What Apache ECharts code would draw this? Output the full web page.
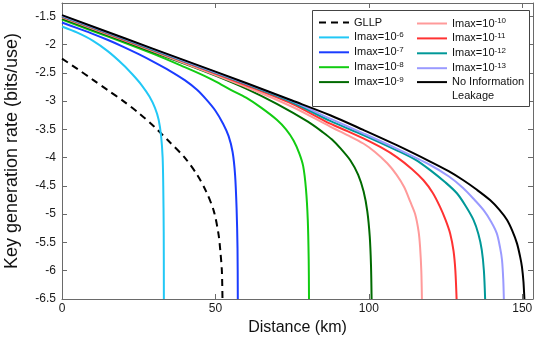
<!DOCTYPE html>
<html>
<head>
<meta charset="utf-8">
<script src="https://cdn.jsdelivr.net/npm/echarts@6/dist/echarts.min.js"></script>
<style>
  html, body { margin: 0; padding: 0; background: #fff; }
  #ec { width: 540px; height: 338px; }
</style>
</head>
<body>
<div id="ec"></div>
<script>
  // distance (km) vs log10 key rate
  const gllp = [[0,-2.25],[5,-2.43],[10,-2.62],[15,-2.81],[20,-3.0],[25,-3.21],[30,-3.45],[35,-3.72],[40,-4.0],[44,-4.3],[47,-4.6],[49.5,-4.95],[51,-5.35],[51.6,-5.65],[52.1,-6.0],[52.3,-6.5]]
  const imax6 = [[0,-1.68],[5,-1.79],[10,-1.93],[15,-2.12],[20,-2.36],[23,-2.53],[26,-2.72],[28.5,-2.92],[30.3,-3.12],[31.5,-3.33],[32.3,-3.62],[32.8,-4.0],[33.0,-4.5],[33.15,-5.3],[33.2,-6.5]]
  const imax7 = [[0,-1.61],[5,-1.71],[10,-1.81],[15,-1.92],[20,-2.04],[25,-2.17],[30,-2.31],[35,-2.46],[40,-2.63],[44,-2.8],[47,-2.97],[50,-3.17],[52.5,-3.4],[54.3,-3.62],[55.6,-3.9],[56.4,-4.3],[56.9,-4.9],[57.2,-5.6],[57.3,-6.5]]
  const imax8 = [[0,-1.56],[10,-1.76],[20,-1.96],[30,-2.17],[40,-2.4],[45,-2.52],[50,-2.65],[55,-2.8],[60,-2.94],[65,-3.12],[70,-3.33],[73,-3.5],[75.5,-3.7],[77.3,-3.92],[78.6,-4.15],[79.5,-4.55],[80.1,-5.1],[80.4,-5.8],[80.5,-6.5]]
  const imax9 = [[0,-1.54],[20,-1.94],[40,-2.34],[50,-2.55],[60,-2.78],[70,-3.05],[80,-3.36],[85,-3.55],[88,-3.68],[91,-3.85],[94,-4.05],[96.5,-4.3],[98.3,-4.6],[99.5,-4.95],[100.3,-5.4],[100.7,-5.9],[100.9,-6.5]]
  const imax10 = [[0,-1.52],[20,-1.92],[40,-2.33],[60,-2.75],[75,-3.1],[87.4,-3.45],[93,-3.6],[98.2,-3.75],[102,-3.9],[106,-4.1],[109,-4.3],[111.5,-4.52],[113.5,-4.78],[115.1,-5.0],[116.2,-5.3],[116.7,-5.58],[117.1,-6.0],[117.3,-6.5]]
  const imax11 = [[0,-1.51],[20,-1.91],[40,-2.31],[60,-2.72],[75,-3.05],[87.4,-3.4],[93,-3.53],[98.2,-3.66],[104,-3.82],[109.1,-3.99],[114,-4.2],[117.8,-4.4],[120.8,-4.62],[123.2,-4.87],[125,-5.1],[126.5,-5.34],[127.6,-5.65],[128.2,-6.0],[128.6,-6.5]]
  const imax12 = [[0,-1.5],[20,-1.9],[40,-2.3],[60,-2.7],[75,-3.02],[87.4,-3.35],[98.2,-3.6],[109.1,-3.87],[115,-4.03],[120,-4.22],[125,-4.44],[128.7,-4.63],[131.5,-4.85],[134.1,-5.1],[135.7,-5.35],[136.8,-5.63],[137.5,-6.0],[137.9,-6.5]]
  const imax13 = [[0,-1.49],[20,-1.89],[40,-2.29],[60,-2.69],[75,-3.0],[87.4,-3.31],[98.2,-3.57],[109.1,-3.84],[120,-4.13],[126,-4.33],[130.8,-4.54],[134.5,-4.75],[137.4,-4.93],[139.8,-5.13],[141.7,-5.34],[142.8,-5.6],[143.4,-5.81],[143.8,-6.15],[144,-6.5]]
  const noLeak = [[0,-1.48],[20,-1.88],[40,-2.28],[60,-2.68],[75,-2.99],[87.4,-3.25],[98.2,-3.51],[109.1,-3.78],[120,-4.07],[126,-4.24],[130.8,-4.4],[135,-4.56],[139.5,-4.75],[142.5,-4.92],[145,-5.1],[146.8,-5.3],[148.3,-5.52],[149.3,-5.75],[149.9,-5.93],[150.4,-6.2],[150.7,-6.5]]

  const names = ['GLLP','Imax=10^-6','Imax=10^-7','Imax=10^-8','Imax=10^-9','Imax=10^-10','Imax=10^-11','Imax=10^-12','Imax=10^-13','No Information Leakage']
  const colors = ['#000000','#22c8f6','#1a3cff','#12cc12','#006a00','#ff9a9a','#ff3232','#009898','#9a9aff','#000000']
  const datas = [gllp, imax6, imax7, imax8, imax9, imax10, imax11, imax12, imax13, noLeak]

  const yTicks = { min: -6.5, max: -1.265, interval: 0.5 }
  const xTicks = { min: 0, max: 153.5, interval: 50 }

  const FONT = '"Liberation Sans", Arial, Helvetica, sans-serif'
  const axisGray = '#6a6a6a'

  const ec = echarts.init(document.getElementById('ec'))

  function legendLabel(name){
    if(name.indexOf('^') > -1){
      let p = name.split('^')
      return '{t|' + p[0] + '}{s|' + p[1] + '}'
    }
    if(name == 'No Information Leakage'){ return '{t|No Information}' }
    return '{t|' + name + '}'
  }

  const legendBase = {
    orient: 'vertical',
    itemWidth: 30,
    itemHeight: 12,
    itemGap: 2.9,
    padding: 0,
    formatter: legendLabel,
    itemStyle: { opacity: 0 },
    textStyle: {
      rich: {
        t: { fontSize: 11, fontFamily: FONT, color: '#111', lineHeight: 13 },
        s: { fontSize: 8, fontFamily: FONT, color: '#111', verticalAlign: 'top', lineHeight: 13 }
      }
    }
  }

  ec.setOption({
    animation: false,
    grid: { left: 62, right: 7, top: 3, bottom: 39, outerBoundsMode: 'none' },
    xAxis: [{
      type: 'value',
      min: xTicks.min, max: xTicks.max, interval: xTicks.interval,
      name: 'Distance (km)',
      nameLocation: 'middle',
      nameGap: 19,
      nameTextStyle: { fontSize: 16, fontFamily: FONT, color: '#111' },
      axisLine: { show: true, onZero: false, lineStyle: { color: axisGray } },
      axisTick: { show: true, inside: true, length: 5, lineStyle: { color: axisGray } },
      axisLabel: { fontSize: 12, fontFamily: FONT, color: '#1a1a1a', margin: 4, showMaxLabel: false },
      splitLine: { show: false }
    }, {
      type: 'value', position: 'top',
      min: xTicks.min, max: xTicks.max, interval: xTicks.interval,
      axisLine: { show: true, onZero: false, lineStyle: { color: axisGray } },
      axisTick: { show: true, inside: true, length: 5, lineStyle: { color: axisGray } },
      axisLabel: { show: false },
      splitLine: { show: false }
    }],
    yAxis: [{
      type: 'value',
      min: yTicks.min, max: yTicks.max, interval: yTicks.interval,
      name: 'Key generation rate (bits/use)',
      nameLocation: 'middle',
      nameGap: 41,
      nameTextStyle: { fontSize: 18, fontFamily: FONT, color: '#111' },
      axisLine: { show: true, onZero: false, lineStyle: { color: axisGray } },
      axisTick: { show: true, inside: true, length: 5, lineStyle: { color: axisGray } },
      axisLabel: { fontSize: 12, fontFamily: FONT, color: '#1a1a1a', margin: 6, showMaxLabel: false },
      splitLine: { show: false }
    }, {
      type: 'value', position: 'right',
      min: yTicks.min, max: yTicks.max, interval: yTicks.interval,
      axisLine: { show: true, onZero: false, lineStyle: { color: axisGray } },
      axisTick: { show: true, inside: true, length: 5, lineStyle: { color: axisGray } },
      axisLabel: { show: false },
      splitLine: { show: false }
    }],
    legend: [
      Object.assign({}, legendBase, { left: 318, top: 17, data: names.slice(0, 5) }),
      Object.assign({}, legendBase, { left: 416, top: 17, data: names.slice(5) })
    ],
    graphic: [{
      type: 'rect', z: 3,
      shape: { x: 312.5, y: 10.5, width: 217, height: 96 },
      style: { fill: '#fff', stroke: '#444', lineWidth: 1 }
    }, {
      type: 'text', z: 5, left: 452, top: 90,
      style: { text: 'Leakage', fontSize: 11, fontFamily: FONT, fill: '#111' }
    }],
    series: datas.map((d, i) => ({
      name: names[i],
      type: 'line',
      data: d,
      symbol: 'none',
      smooth: 0.3,
      color: colors[i],
      lineStyle: { width: 2, color: colors[i], type: i == 0 ? [7, 5] : 'solid' },
      z: 2
    }))
  })
</script>
</body>
</html>
